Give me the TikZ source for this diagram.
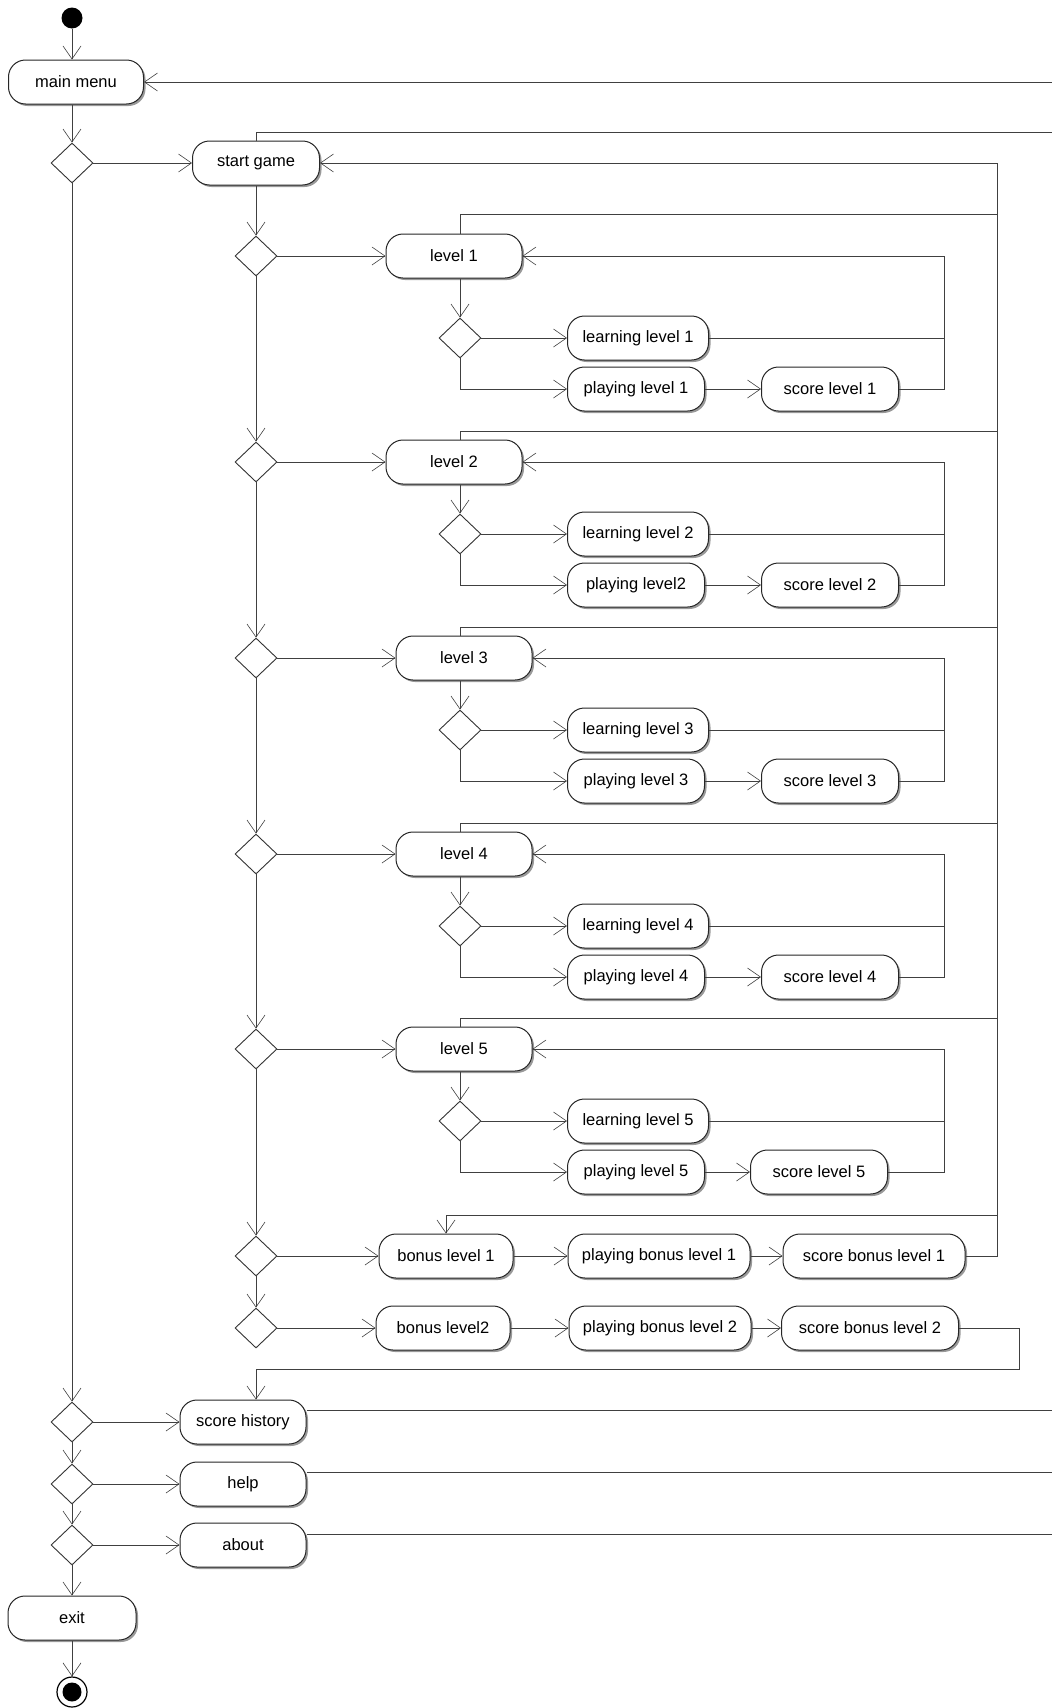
\documentclass[tikz,border=0pt]{standalone}
\usepackage{fontspec}
\setmainfont{Liberation Sans}
\usetikzlibrary{shapes.geometric,arrows.meta,shadows}

\tikzset{
  act/.style={draw=black!85, line width=1pt, fill=white, rounded corners=17pt,
    minimum height=44pt, inner sep=0pt, font=\fontsize{16.5}{20}\selectfont,
    drop shadow={shadow xshift=2pt, shadow yshift=-2pt, opacity=0.4, fill=black}},
  choice/.style={diamond, draw=black!80, line width=0.9pt, fill=white,
    minimum width=42pt, minimum height=40pt, inner sep=0pt},
  flow/.style={draw=black!75, line width=0.9pt},
  arr/.style={flow, -{Straight Barb[length=13pt, width=18pt, line width=0.6pt]}},
}

\begin{document}
\begin{tikzpicture}[x=1pt, y=-1pt]
\useasboundingbox (0,0) rectangle (1052,1708);

% start and main menu
\node[circle, fill=black, minimum size=21pt, inner sep=0pt] (start) at (72,18) {};
\node[act, minimum width=135pt] (menu) at (76,82) {main menu};
\node[choice] (dA1) at (72,163) {};
\node[act, minimum width=127pt] (game) at (256,163) {start game};
\coordinate (menuin) at (1052,82);
\coordinate (gameout) at (1052,132);
\draw[arr] (start.south) -- (menu.north -| start);
\draw[arr] (menuin) -- (menu.east);
\draw[arr] (menu.south -| dA1) -- (dA1.north);
\draw[arr] (dA1.east) -- (game.west);
\draw[flow] (game.north) |- (gameout);

% choices under start game
\foreach \n/\y in {1/256, 2/462, 3/658, 4/854, 5/1049, 6/1256, 7/1328}
  \node[choice] (dB\n) at (256,\y) {};
\draw[arr] (game.south) -- (dB1.north);
\foreach \a/\b in {1/2, 2/3, 3/4, 4/5, 5/6, 6/7}
  \draw[arr] (dB\a.south) -- (dB\b.north);

% back line to start game
\coordinate (busS) at (997.5,163);
\coordinate (busE) at (997.5,1256);
\coordinate (busB) at (997.5,1215);
\draw[flow] (busS) -- (busE);
\draw[arr] (busS) -- (game.east);

% levels
\foreach \k/\y/\ty/\ly/\lx/\sx/\pl in {1/256/214/338/454/830/playing level 1,
    2/462/431/534/454/830/playing level2, 3/658/627/730/464/830/playing level 3,
    4/854/823/926/464/830/playing level 4, 5/1049/1018/1121/464/819/playing level 5}
{
  \node[act, minimum width=136pt] (lv\k) at (\lx,\y) {level \k};
  \node[choice] (ld\k) at (460,\ly) {};
  \node[act, minimum width=141pt] (ln\k) at (638,\ly) {learning level \k};
  \node[act, minimum width=137pt] (pl\k) at (636,\ly+51) {\pl};
  \node[act, minimum width=137pt] (sc\k) at (\sx,\ly+51) {score level \k};
  \coordinate (lp\k) at (944,\y);
  \coordinate (bus\k) at (997.5,\ty);
  \draw[arr] (dB\k.east) -- (lv\k.west);
  \draw[arr] (lv\k.south -| ld\k) -- (ld\k.north);
  \draw[arr] (ld\k.east) -- (ln\k.west);
  \draw[arr] (ld\k.south) |- (pl\k.west);
  \draw[arr] (pl\k.east) -- (sc\k.west);
  \draw[flow] (ln\k.east) -- (ln\k.east -| lp\k);
  \draw[arr] (sc\k.east) -| (lp\k) -- (lv\k.east);
  \draw[flow] (lv\k.north -| ld\k) |- (bus\k);
}

% bonus levels
\node[act, minimum width=134pt] (bn1) at (446,1256) {bonus level 1};
\node[act, minimum width=182pt] (pb1) at (659,1256) {playing bonus level 1};
\node[act, minimum width=182pt] (sb1) at (874,1256) {score bonus level 1};
\node[act, minimum width=134pt] (bn2) at (443,1328) {bonus level2};
\node[act, minimum width=182pt] (pb2) at (660,1328) {playing bonus level 2};
\node[act, minimum width=177pt] (sb2) at (870,1328) {score bonus level 2};
\coordinate (back) at (1019,1369);
\draw[arr] (dB6.east) -- (bn1.west);
\draw[arr] (bn1.east) -- (pb1.west);
\draw[arr] (pb1.east) -- (sb1.west);
\draw[arr] (busB) -| (bn1.north);
\draw[flow] (sb1.east) -- (busE);
\draw[arr] (dB7.east) -- (bn2.west);
\draw[arr] (bn2.east) -- (pb2.west);
\draw[arr] (pb2.east) -- (sb2.west);

% score history, help, about, exit
\foreach \n/\y in {2/1422, 3/1484, 4/1545}
  \node[choice] (dA\n) at (72,\y) {};
\node[act, minimum width=126pt] (hist) at (243,1422) {score history};
\node[act, minimum width=126pt] (help) at (243,1484) {help};
\node[act, minimum width=126pt] (about) at (243,1545) {about};
\node[act, minimum width=128pt] (exit) at (72,1618) {exit};
\node[circle, draw=black, line width=1.2pt, fill=white, minimum size=30pt,
  inner sep=0pt] (stop) at (72,1692) {};
\fill (stop) circle (9.5pt);
\coordinate (histout) at (1052,1410);
\coordinate (helpout) at (1052,1472);
\coordinate (aboutout) at (1052,1534);
\draw[arr] (sb2.east) -| (back) -| (hist.north -| dB7);
\draw[arr] (dA1.south) -- (dA2.north);
\draw[arr] (dA2.south) -- (dA3.north);
\draw[arr] (dA3.south) -- (dA4.north);
\draw[arr] (dA4.south) -- (exit.north);
\draw[arr] (exit.south) -- (stop.north);
\draw[arr] (dA2.east) -- (hist.west);
\draw[arr] (dA3.east) -- (help.west);
\draw[arr] (dA4.east) -- (about.west);
\draw[flow] (hist.east |- histout) -- (histout);
\draw[flow] (help.east |- helpout) -- (helpout);
\draw[flow] (about.east |- aboutout) -- (aboutout);
\end{tikzpicture}
\end{document}
